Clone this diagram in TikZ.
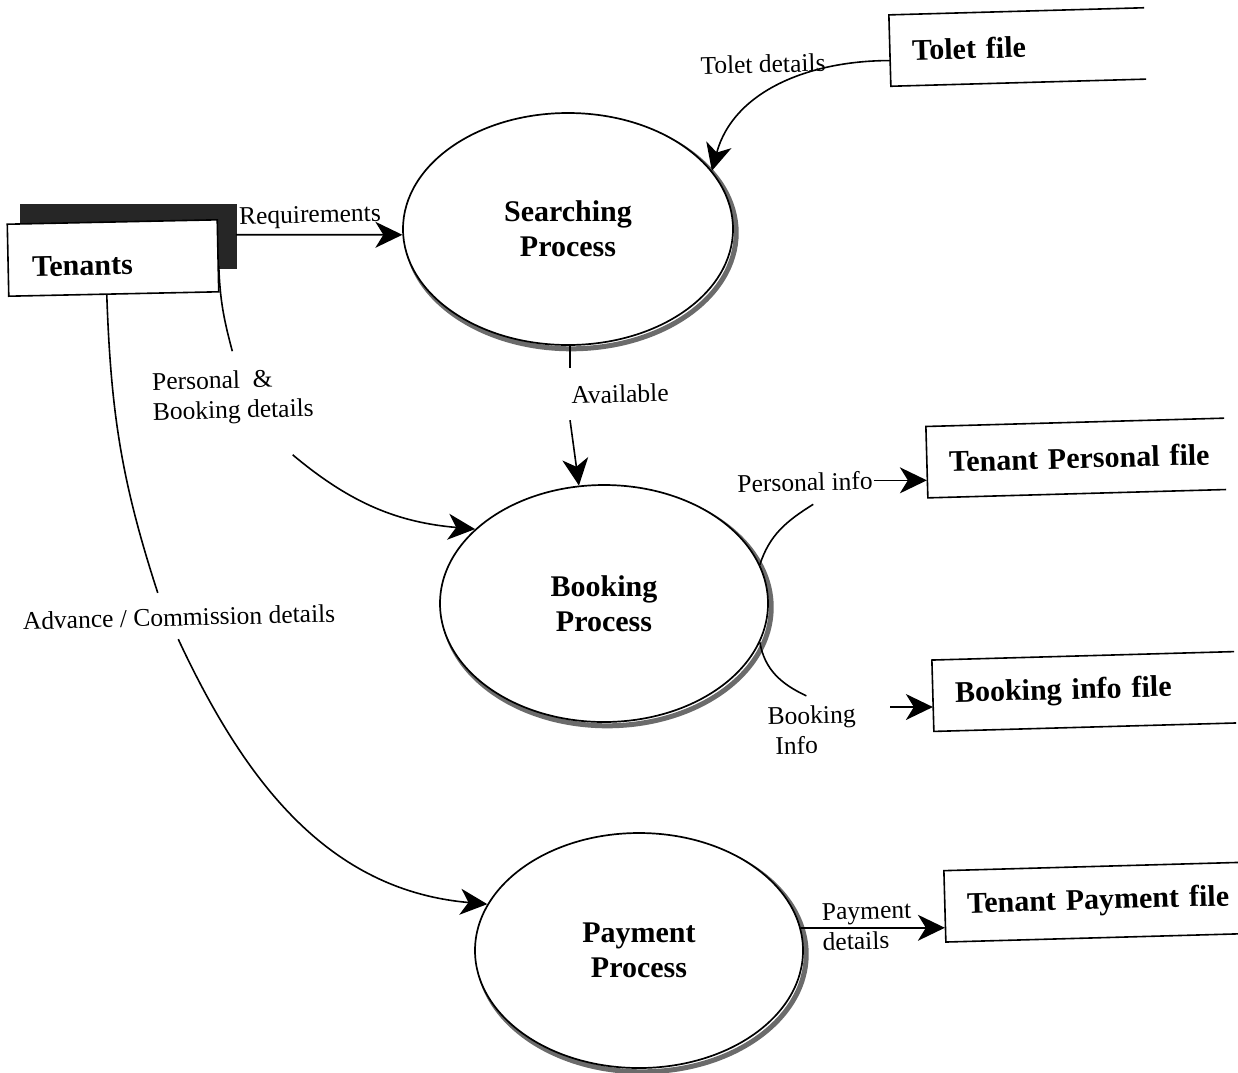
\documentclass[tikz,border=0pt]{standalone}
\usepackage{fontspec}
\setmainfont{Liberation Serif}
\usetikzlibrary{arrows.meta,shapes.geometric,calc,backgrounds}

\begin{document}
\begin{tikzpicture}[x=1pt,y=-1pt,
  flow/.style={line width=1.6pt},
  arr/.style={flow,-{Stealth[length=27pt,width=26pt,inset=8pt]}},
  titlefont/.style={font=\fontsize{30}{35}\selectfont\bfseries},
  process/.style={ellipse, draw, line width=1.7pt, fill=white, align=center,
    titlefont, inner sep=0pt},
  rim/.style={draw=black!58, line width=5pt},
  entity/.style={rectangle, draw, fill=white, line width=1.6pt, rotate=1.2,
    minimum height=72pt, inner xsep=24pt, inner ysep=0pt, align=left, titlefont},
  store/.style={rectangle, rotate=1.6, inner xsep=22pt, inner ysep=0pt,
    minimum height=71pt, align=left, titlefont},
  lbl/.style={rotate=1.4, inner sep=1pt, align=left,
    font=\fontsize{25.5}{30}\selectfont},
]
\useasboundingbox (0,0) rectangle (1238,1072);

% external entity with its offset shadow
\node[entity, text width=162pt, text height=34pt] (ten) at (113,258) {Tenants};
\begin{scope}[on background layer]
  \fill[black!85] ([xshift=14pt,yshift=19pt]ten.north west)
    rectangle ([xshift=17pt,yshift=24pt]ten.south east);
\end{scope}

% processes
\node[process, minimum width=330pt, minimum height=232pt] (search) at (568,229) {Searching\\Process};
\node[process, minimum width=328pt, minimum height=237pt] (booking) at (604,603.5) {Booking\\Process};
\node[process, minimum width=328pt, minimum height=235pt] (payment) at (639,950.5) {Payment\\Process};

% grey rim on the lower right of each process
\begin{scope}[on background layer]
  \draw[rim] ([xshift=3.2pt,yshift=-3.8pt]search.center) ellipse [x radius=165pt, y radius=116pt];
  \draw[rim] ([xshift=3.2pt,yshift=-3.8pt]booking.center) ellipse [x radius=164pt, y radius=118.5pt];
  \draw[rim] ([xshift=3.2pt,yshift=-3.8pt]payment.center) ellipse [x radius=164pt, y radius=117.5pt];
\end{scope}

% data stores (open on the right); names are kept on one line
\node[store, text width=211pt] (tol) at (1017.5,47) {\mbox{Tolet file}};
\node[store, text width=254pt] (tpf) at (1076,458) {\mbox{Tenant Personal file}};
\node[store, text width=258pt] (bif) at (1084,691.5) {\mbox{Booking info file}};
\node[store, text width=266pt] (tpay) at (1100,902) {\mbox{Tenant Payment file}};
\foreach \s in {tol,tpf,bif,tpay}
  \draw[flow] (\s.north east) -- (\s.north west) -- (\s.south west) -- (\s.south east);

% flow labels
\node[lbl] (req) at (310,217) {Requirements};
\node[lbl] (toldet) at (763,64) {Tolet details};
\node[lbl, inner ysep=17pt] (avail) at (620,394) {Available};
\node[lbl] (pbd) at (233,397) {Personal\ \ \&\\Booking details};
\node[lbl] (pinfo) at (805,482) {Personal info};
\node[lbl] (binfo) at (812,730) {Booking\\\hspace*{7pt}Info};
\node[lbl] (acd) at (179,617) {Advance / Commission details};
\node[lbl] (pdet) at (867,926) {Payment\\details};

% flows
\draw[arr] ([xshift=17pt,yshift=21pt]ten.east) -- (search.182);
\draw[arr] ([yshift=-10pt]tol.west) to[out=180,in=75] (search.22);

\draw[flow] (search.271) -- (search.271 |- avail.north);
\draw[arr] (search.271 |- avail.south) -- (booking.102);

\draw[flow] (booking.14) to[out=72,in=212] ([xshift=8pt,yshift=-12pt]pinfo.south);
\draw[arr] (pinfo.east) -- (pinfo.east -| tpf.west);

\draw[flow] (booking.-14) to[out=-80,in=155] ([xshift=-5pt,yshift=9pt]binfo.north);
\coordinate (bistart) at (890,707);
\draw[arr] (bistart) -- (bistart -| bif.west);

\draw[arr] (payment.8) -- (payment.8 -| tpay.west);

\draw[flow] ([yshift=-10pt]ten.east) to[out=-88,in=105] ([yshift=18pt]pbd.north);
\draw[arr] ($(pbd.south)+(59,30)$) to[out=-40,in=175] (booking.150);

\draw[flow] ([xshift=-7pt]ten.south) to[out=-88,in=108] ([xshift=-21pt,yshift=14pt]acd.north);
\draw[arr] ([xshift=-1pt,yshift=-12pt]acd.south) to[out=-65,in=175] (payment.163);
\end{tikzpicture}
\end{document}
